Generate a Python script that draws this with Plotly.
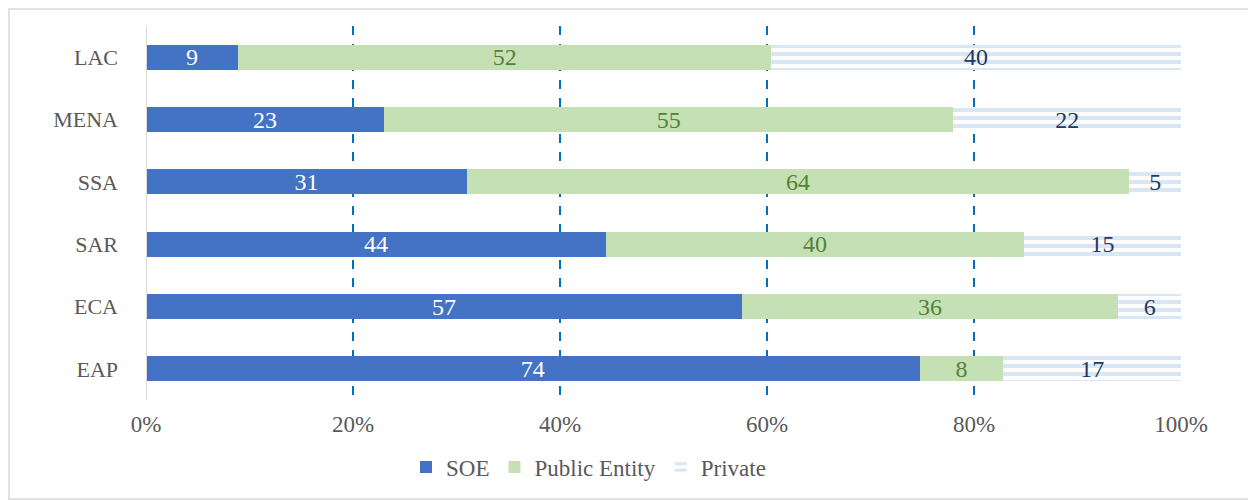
import plotly.graph_objects as go

regions = ["LAC", "MENA", "SSA", "SAR", "ECA", "EAP"]
soe = [9, 23, 31, 44, 57, 74]
public_entity = [52, 55, 64, 40, 36, 8]
private = [40, 22, 5, 15, 6, 17]
tick_vals = [0, 20, 40, 60, 80, 100]
tick_text = ["0%", "20%", "40%", "60%", "80%", "100%"]

FONT = "Liberation Serif, Times New Roman, serif"

# page has an 8px body margin, so the figure is 1248x492
W, H = 1248, 492
L, R, T, B = 138, 75, 18, 100
PW, PH = W - L - R, H - T - B

fig = go.Figure()
fig.add_trace(go.Bar(
    y=regions, x=soe, name="SOE", orientation="h",
    marker=dict(color="#4472C4", line=dict(width=0)),
    text=soe, textposition="inside", insidetextanchor="middle", textangle=0,
    textfont=dict(color="white", size=24, family=FONT), constraintext="none",
))
fig.add_trace(go.Bar(
    y=regions, x=public_entity, name="Public Entity", orientation="h",
    marker=dict(color="#C5E0B4", line=dict(width=0)),
    text=public_entity, textposition="inside", insidetextanchor="middle", textangle=0,
    textfont=dict(color="#548235", size=24, family=FONT), constraintext="none",
))
fig.add_trace(go.Bar(
    y=regions, x=private, name="Private", orientation="h",
    marker=dict(color="white", line=dict(width=0),
                pattern=dict(shape="-", fgcolor="#B4D0EC", bgcolor="white",
                             size=8, solidity=0.5)),
    text=private, textposition="inside", insidetextanchor="middle", textangle=0,
    textfont=dict(color="#1F3864", size=24, family=FONT), constraintext="none",
))

fig.update_layout(
    width=W, height=H,
    barmode="stack", barnorm="percent", bargap=0.6,
    paper_bgcolor="white", plot_bgcolor="white",
    margin=dict(l=L, r=R, t=T, b=B, autoexpand=False),
    font=dict(family=FONT, color="#595959", size=22),
    showlegend=True,
    legend=dict(orientation="h", x=(398 - L) / PW, xanchor="left",
                y=-(459 - (T + PH)) / PH, yanchor="middle",
                font=dict(size=23, color="#595959", family=FONT), traceorder="normal",
                itemwidth=30),
    xaxis=dict(range=[0, 100], tickvals=tick_vals, ticktext=tick_text,
               showgrid=True, gridcolor="#0070C0", gridwidth=2, griddash="dash",
               zeroline=False, showline=False, ticks="", ticklen=0,
               ticklabelstandoff=8,
               tickfont=dict(size=23, color="#595959", family=FONT)),
    yaxis=dict(categoryorder="array", categoryarray=regions, autorange="reversed",
               showgrid=False, zeroline=False, showline=False, ticks="",
               ticklabelstandoff=27,
               tickfont=dict(size=22, color="#595959", family=FONT)),
    shapes=[
        dict(type="line", xref="x", yref="paper", x0=0, x1=0, y0=0, y1=1,
             line=dict(color="#D9D9D9", width=2)),
        dict(type="rect", xref="paper", yref="paper",
             x0=(1 - L) / PW, x1=(W - 1 - L) / PW,
             y0=-(H - 1 - (T + PH)) / PH, y1=1 + (T - 1) / PH,
             line=dict(color="#D9D9D9", width=1.5), fillcolor="rgba(0,0,0,0)", layer="below"),
    ],
)

fig.write_html("out.html")
